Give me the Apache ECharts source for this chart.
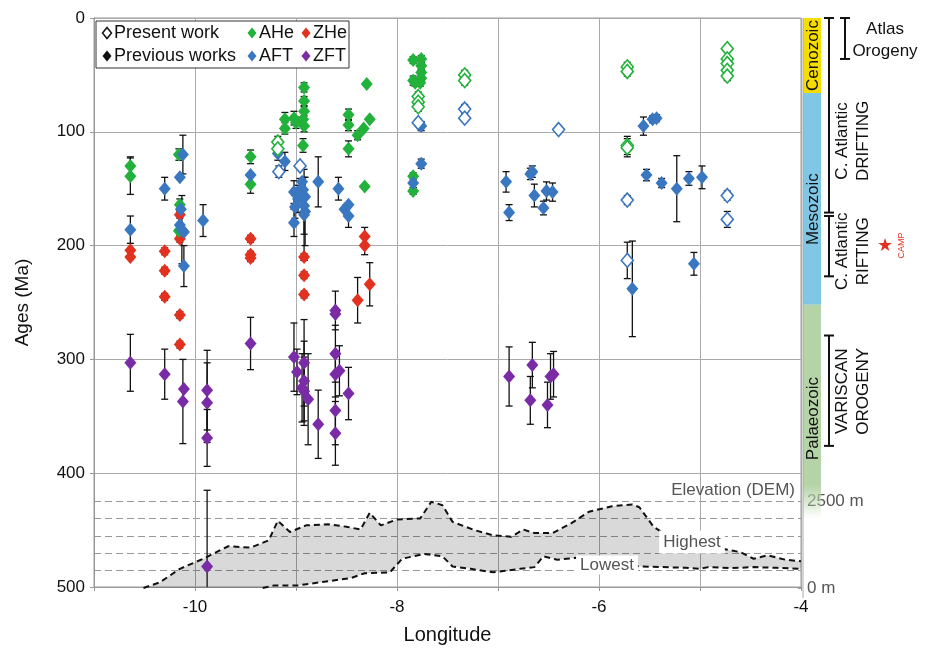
<!DOCTYPE html>
<html>
<head>
<meta charset="utf-8">
<script src="https://cdn.jsdelivr.net/npm/echarts@6/dist/echarts.min.js"></script>
<style>
  html, body { margin: 0; padding: 0; background: #fff; }
  #chart { width: 935px; height: 650px; }
</style>
</head>
<body>
<div id="chart"></div>
<script>
// [longitude, age (Ma), error (Ma)]
var aheOld = [
  [-10.64,130,8],[-10.64,139,16],[-10.16,120,5],[-10.15,164,5],[-10.16,187,0],
  [-9.45,122,6],[-9.45,146,8],[-9.11,89,6],[-9.11,97,5],
  [-9.02,88,6],[-9.0,92,5],[-8.92,61,4],[-8.92,73,4],[-8.92,82,4],[-8.93,89,6],[-8.92,95,5],[-8.93,112,6],
  [-8.48,85,5],[-8.48,94,5],[-8.48,115,7],[-8.39,103,4],[-8.33,97,0],[-8.30,58,0],[-8.27,89,0],[-8.32,148,0],
  [-7.84,37,3],[-7.84,55,4],[-7.82,57,3],[-7.76,36,3],[-7.76,42,3],[-7.76,48,3],[-7.76,53,3],[-7.77,57,3],
  [-7.84,139,3],[-7.84,152,3]
];
var aheNew = [
  [-9.18,109,5],[-9.18,115,5],
  [-7.79,69,4],[-7.79,74,4],[-7.79,78,4],
  [-7.33,50,4],[-7.33,55,4],
  [-5.72,43,4],[-5.72,47,4],[-5.72,112,8],[-5.72,114,8],
  [-4.73,27,0],[-4.73,36,0],[-4.73,40,0],[-4.73,46,0],[-4.73,51,4]
];
var aftOld = [
  [-10.64,186,12],[-10.30,150,10],
  [-10.12,120,17],[-10.15,140,0],[-10.14,168,0],[-10.15,182,0],[-10.13,186,30],[-10.11,188,0],[-10.11,218,18],
  [-9.92,178,14],[-9.45,138,0],
  [-9.18,119,6],[-9.11,126,8],
  [-9.02,153,10],[-9.01,166,10],[-9.02,180,12],
  [-8.94,144,0],[-8.96,151,10],[-8.93,151,0],[-8.98,159,12],[-8.91,157,0],[-8.92,165,25],[-8.91,170,30],[-8.92,173,40],
  [-8.78,144,22],
  [-8.58,150,10],[-8.52,168,0],[-8.48,164,0],[-8.48,174,10],
  [-7.76,95,4],[-7.76,128,4],[-7.84,145,4],
  [-6.92,144,9],[-6.89,171,7],
  [-6.68,137,5],[-6.66,135,5],[-6.64,156,10],[-6.55,167,6],[-6.52,152,8],[-6.46,153,8],
  [-5.67,238,42],[-5.56,95,8],[-5.47,89,3],[-5.43,88,3],
  [-5.53,138,5],[-5.38,145,4],[-5.23,150,29],[-5.11,141,6],[-4.98,140,10],[-5.06,216,10]
];
var aftNew = [
  [-9.17,135,5],[-8.96,130,0],
  [-7.79,92,3],
  [-7.33,80,4],[-7.33,88,0],
  [-6.40,98,3],
  [-5.72,160,4],[-5.72,213,16],
  [-4.73,156,4],[-4.73,177,7]
];
var zheOld = [
  [-10.64,204,0],[-10.64,210,0],
  [-10.30,205,3],[-10.30,222,3],[-10.30,245,3],
  [-10.15,173,3],[-10.15,194,3],[-10.15,261,3],[-10.15,287,3],
  [-9.45,194,3],[-9.45,208,3],[-9.45,211,3],
  [-8.92,210,3],[-8.92,226,3],[-8.92,243,3],
  [-8.39,248,20],[-8.32,192,8],[-8.32,200,8],[-8.27,234,19]
];
var zftOld = [
  [-10.64,303,25],[-10.30,313,22],
  [-10.11,326,0],[-10.12,337,37],
  [-9.88,327,35],[-9.88,338,35],[-9.88,369,25],[-9.88,482,67],
  [-9.45,286,23],
  [-9.02,298,30],[-8.99,311,20],[-8.92,303,38],[-8.92,319,35],[-8.94,325,30],[-8.92,328,30],[-8.88,335,40],
  [-8.78,357,30],
  [-8.61,257,17],[-8.61,260,0],[-8.61,295,25],[-8.61,313,20],[-8.61,345,30],[-8.61,365,28],[-8.57,310,22],[-8.48,330,23],
  [-6.89,315,26],
  [-6.66,305,20],[-6.68,336,21],[-6.51,340,20],[-6.48,315,20],[-6.45,313,20]
];

// elevation profile [longitude, metres]
var highest = [
  [-10.51,0],[-10.35,160],[-10.15,550],[-9.92,840],[-9.67,1200],[-9.45,1160],[-9.27,1370],[-9.18,1930],
  [-9.06,1610],[-8.90,1800],[-8.68,1830],[-8.50,1760],[-8.36,1680],[-8.27,2160],[-8.16,1800],[-8.00,1970],
  [-7.77,2000],[-7.66,2480],[-7.55,2380],[-7.45,1900],[-7.23,1660],[-7.05,1515],[-6.87,1470],[-6.75,1680],
  [-6.64,1580],[-6.46,1580],[-6.28,1850],[-6.10,2190],[-5.87,2350],[-5.67,2400],[-5.60,2320],[-5.46,1760],
  [-5.33,1515],[-5.14,1370],[-4.96,1230],[-4.78,1130],[-4.60,1030],[-4.47,840],[-4.33,940],[-4.15,810],[-4.00,770]
];
var lowest = [
  [-9.33,0],[-9.22,70],[-8.99,70],[-8.77,160],[-8.45,290],[-8.32,425],[-8.07,450],[-7.95,840],[-7.73,980],
  [-7.55,910],[-7.45,620],[-7.27,550],[-7.05,450],[-6.78,550],[-6.64,600],[-6.55,910],[-6.41,810],[-6.23,870],
  [-6.05,700],[-5.82,670],[-5.60,620],[-5.37,600],[-5.14,580],[-5.01,550],[-4.92,600],[-4.69,570],[-4.47,600],
  [-4.24,580],[-4.00,550]
];

// geological time scale
var eraNames = ['Cenozoic', 'Mesozoic', 'Palaeozoic'];
var eraStart = [0, 66, 252];
var eraEnd = [66, 252, 440];
var eraLabelAge = [33, 168, 352];
var eventNames = ['Atlas\nOrogeny', 'C. Atlantic\nDRIFTING', 'C. Atlantic\nRIFTING', 'VARISCAN\nOROGENY'];
var eventStart = [0, 0, 174, 279];
var eventEnd = [36, 171, 227, 376];
var eventLabelAge = [20, 108, 205, 328];
var campAge = 200;

var GREEN = '#22b23b', BLUE = '#3a77c1', RED = '#e2321f', PURPLE = '#7a2ba6';
var FONT = 'Liberation Sans, Arial, sans-serif';

var myChart = echarts.init(document.getElementById('chart'));

var allPts = aheOld.concat(aheNew, aftOld, aftNew, zheOld, zftOld);
var errData = allPts.filter(function (d) { return d[2] > 0; });

function renderErr(params, api) {
  var x = api.value(0), y = api.value(1), e = api.value(2);
  var top = api.coord([x, Math.max(0, y - e)]);
  var bot = api.coord([x, Math.min(500, y + e)]);
  var cw = 3.5;
  var st = { stroke: '#111', lineWidth: 1.3 };
  var kids = [
    { type: 'line', shape: { x1: top[0], y1: top[1], x2: bot[0], y2: bot[1] }, style: st },
    { type: 'line', shape: { x1: top[0] - cw, y1: top[1], x2: top[0] + cw, y2: top[1] }, style: st }
  ];
  if (y + e < 500) {
    kids.push({ type: 'line', shape: { x1: bot[0] - cw, y1: bot[1], x2: bot[0] + cw, y2: bot[1] }, style: st });
  }
  return { type: 'group', children: kids };
}

function renderElev(params, api) {
  var pts = highest.map(function (p) { return api.coord(p); });
  for (var i = lowest.length - 1; i >= 0; i--) pts.push(api.coord(lowest[i]));
  return { type: 'polygon', shape: { points: pts }, style: { fill: 'rgba(0,0,0,0.15)' } };
}

function solid(name, data, color) {
  return {
    name: name, type: 'scatter', data: data, symbol: 'diamond', symbolSize: [12, 14],
    itemStyle: { color: color, opacity: 1 }, z: 4
  };
}
function open(name, data, color) {
  return {
    name: name, type: 'scatter', data: data, symbol: 'diamond', symbolSize: [12, 14],
    itemStyle: { color: '#fff', borderColor: color, borderWidth: 1.6, opacity: 1 }, z: 5
  };
}

var option = {
  animation: false,
  textStyle: { fontFamily: FONT },
  grid: [
    { left: 94, right: 134, top: 18, bottom: 62, show: true, borderColor: '#999', borderWidth: 1 },
    { left: 94, right: 134, top: 501, bottom: 62 }
  ],
  xAxis: [
    {
      type: 'value', min: -11, max: -4, interval: 1, gridIndex: 0,
      name: 'Longitude', nameLocation: 'middle', nameGap: 38,
      nameTextStyle: { fontSize: 20, color: '#111' },
      axisLine: { show: true, onZero: false, lineStyle: { color: '#999' } },
      axisTick: { show: true, length: 4, lineStyle: { color: '#999' } },
      axisLabel: {
        fontSize: 17, color: '#111', margin: 12,
        formatter: function (v) { return v % 2 === 0 ? String(v) : ''; }
      },
      splitLine: { show: true, lineStyle: { color: '#aaa', width: 1 } }
    },
    { type: 'value', min: -11, max: -4, gridIndex: 1, show: false }
  ],
  yAxis: [
    {
      type: 'value', min: 0, max: 500, interval: 100, inverse: true, gridIndex: 0,
      name: 'Ages (Ma)', nameLocation: 'middle', nameGap: 62,
      nameTextStyle: { fontSize: 19, color: '#111' },
      axisLine: { show: true, lineStyle: { color: '#999' } },
      axisTick: { show: true, length: 4, lineStyle: { color: '#999' } },
      axisLabel: { fontSize: 17, color: '#111', margin: 9 },
      splitLine: { show: true, lineStyle: { color: '#aaa', width: 1 } }
    },
    {
      type: 'value', min: 0, max: 2500, interval: 500, gridIndex: 1, position: 'right',
      axisLine: { show: false },
      axisTick: { show: true, length: 3, inside: true, lineStyle: { color: '#999' } },
      axisLabel: {
        fontSize: 17, color: '#555', margin: 6,
        formatter: function (v) { return v === 2500 ? '2500 m' : (v === 0 ? '0 m' : ''); }
      },
      splitLine: { show: true, showMinLine: false, lineStyle: { color: '#999', type: [7, 4], width: 1.2 } }
    }
  ],
  series: [
    {
      type: 'custom', xAxisIndex: 1, yAxisIndex: 1, data: [[-7, 0]],
      renderItem: renderElev, silent: true, z: 1
    },
    {
      type: 'line', xAxisIndex: 1, yAxisIndex: 1, data: highest, symbol: 'none',
      lineStyle: { color: '#111', width: 2, type: [6, 4] }, z: 2
    },
    {
      type: 'line', xAxisIndex: 1, yAxisIndex: 1, data: lowest, symbol: 'none',
      lineStyle: { color: '#111', width: 2, type: [6, 4] }, z: 2
    },
    {
      type: 'custom', xAxisIndex: 0, yAxisIndex: 0, data: errData,
      renderItem: renderErr, clip: true, z: 3
    },
    solid('ZFT', zftOld, PURPLE),
    solid('ZHe', zheOld, RED),
    solid('AHe', aheOld, GREEN),
    solid('AFT', aftOld, BLUE),
    open('AHe new', aheNew, GREEN),
    open('AFT new', aftNew, BLUE)
  ]
};

myChart.setOption(option);

// annotations: legend, time scale, elevation labels
function diamond(cx, cy, w, h, fill, stroke) {
  return {
    type: 'polygon',
    shape: { points: [[cx, cy - h], [cx + w, cy], [cx, cy + h], [cx - w, cy]] },
    style: { fill: fill, stroke: stroke || null, lineWidth: stroke ? 1.5 : 0 },
    z: 100
  };
}
function label(text, x, y, opts) {
  var s = {
    text: text, x: 0, y: 0, fill: opts.color || '#111', font: (opts.size || 17) + 'px ' + FONT,
    align: opts.align || 'left', verticalAlign: 'middle'
  };
  if (opts.bg) { s.backgroundColor = opts.bg; s.padding = opts.pad || [2, 3]; }
  if (opts.lineHeight) s.lineHeight = opts.lineHeight;
  return { type: 'text', x: x, y: y, rotation: opts.rot || 0, style: s, z: 100 };
}

var g = [];
// legend box
g.push({ type: 'rect', shape: { x: 96, y: 21, width: 253, height: 47 }, style: { fill: '#fff', stroke: '#333', lineWidth: 1 }, z: 99 });
var legRows = [
  ['Present work', 107, 33, '#fff', '#111'], ['Previous works', 107, 56, '#111', null],
  ['AHe', 252, 33, GREEN, null], ['ZHe', 306, 33, RED, null],
  ['AFT', 252, 56, BLUE, null], ['ZFT', 306, 56, PURPLE, null]
];
legRows.forEach(function (r) {
  g.push(diamond(r[1], r[2], 4.5, 5.5, r[3], r[4]));
  g.push(label(r[0], r[1] + 7, r[2], { size: 18 }));
});

function py(a) { return myChart.convertToPixel({ yAxisIndex: 0 }, a); }

// era bar
var eraColors = ['#f6dd00', '#80c7e6', '#b4d3a6'];
var barX = 803, barW = 18;
eraNames.forEach(function (n, i) {
  var y0 = py(eraStart[i]), y1 = py(eraEnd[i]);
  var fill = eraColors[i];
  if (i === 2) {
    fill = new echarts.graphic.LinearGradient(0, 0, 0, 1, [
      { offset: 0, color: eraColors[i] }, { offset: 0.84, color: eraColors[i] }, { offset: 1, color: 'rgba(180,211,166,0)' }
    ]);
  }
  g.push({ type: 'rect', shape: { x: barX, y: y0, width: barW, height: y1 - y0 }, style: { fill: fill }, z: 90 });
  g.push(label(n, barX + barW / 2 + 1, py(eraLabelAge[i]), { size: 17, align: 'center', rot: Math.PI / 2 }));
});
g.push({ type: 'line', shape: { x1: barX, y1: py(0), x2: barX, y2: 598 }, style: { stroke: '#aaa', lineWidth: 1 }, z: 91 });

// brackets
var brX = [845, 829, 829, 829];
eventNames.forEach(function (n, i) {
  var y0 = py(eventStart[i]), y1 = py(eventEnd[i]), x = brX[i], st = { stroke: '#111', lineWidth: 2 };
  g.push({ type: 'line', shape: { x1: x, y1: y0, x2: x, y2: y1 }, style: st, z: 95 });
  g.push({ type: 'line', shape: { x1: x - 5, y1: y0, x2: x + 5, y2: y0 }, style: st, z: 95 });
  g.push({ type: 'line', shape: { x1: x - 5, y1: y1, x2: x + 5, y2: y1 }, style: st, z: 95 });
  if (i === 0) {
    g.push(label(n, 885, py(eventLabelAge[i]), { size: 17, align: 'center', lineHeight: 22 }));
  } else {
    g.push(label(n, 853, py(eventLabelAge[i]), { size: 17, align: 'center', lineHeight: 21, rot: Math.PI / 2 }));
  }
});
g.push(label('\u2605', 885, py(campAge), { size: 18, align: 'center', color: RED }));
g.push(label('CAMP', 902, py(campAge), { size: 9, align: 'center', color: RED, rot: Math.PI / 2 }));

// elevation panel labels
g.push(label('Elevation (DEM)', 795, 490, { size: 17, align: 'right', color: '#555' }));
g.push(label('Highest', 692, 542, { size: 17, align: 'center', color: '#555', bg: '#fff', pad: [3, 4] }));
g.push(label('Lowest', 607, 565, { size: 17, align: 'center', color: '#555', bg: '#fff', pad: [1, 4] }));

myChart.setOption({ graphic: g });
</script>
</body>
</html>
